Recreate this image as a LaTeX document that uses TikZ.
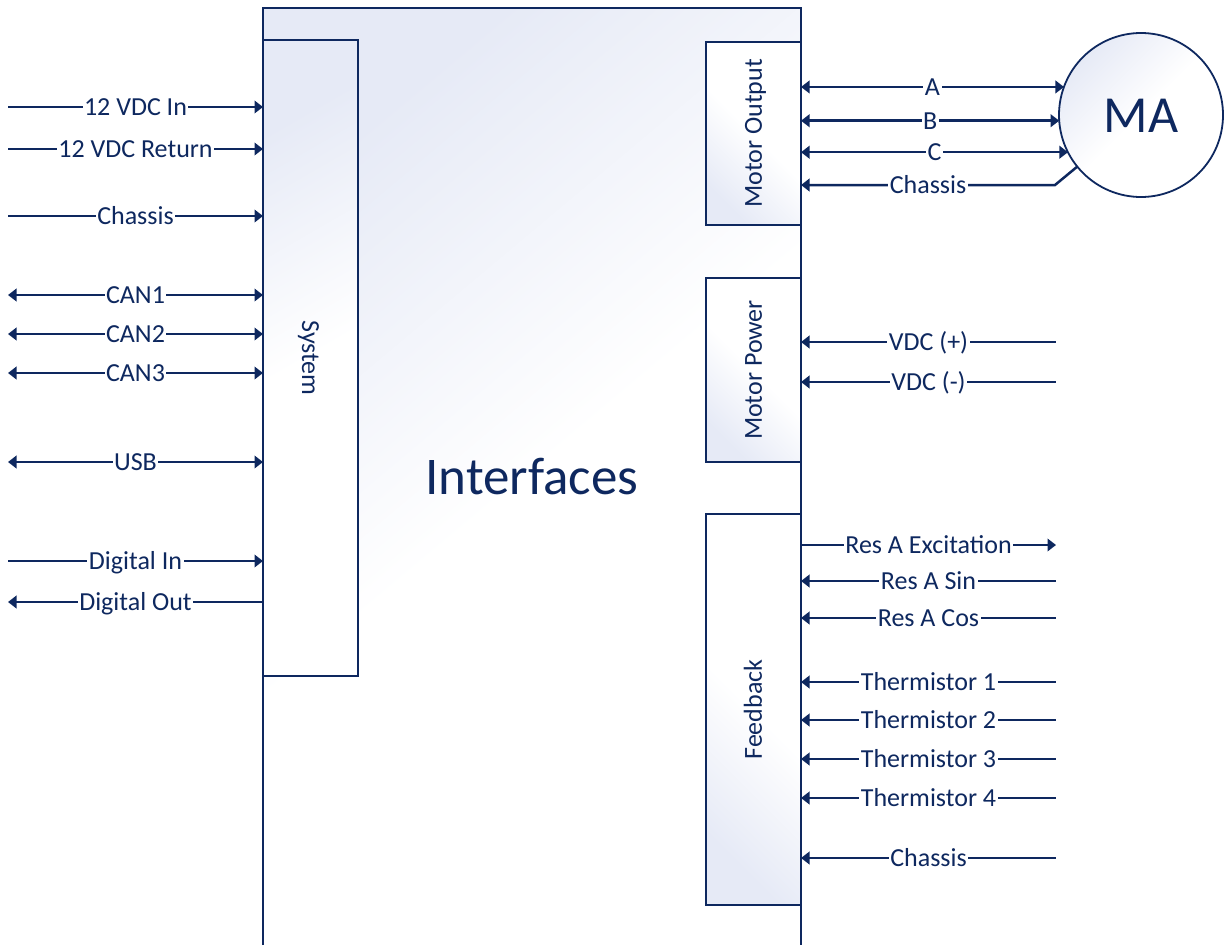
\documentclass[tikz,border=0pt]{standalone}
\usepackage{fontspec}
\setmainfont{Carlito}
\usetikzlibrary{arrows.meta}
\definecolor{navy}{RGB}{14,40,95}
\definecolor{pale}{RGB}{230,234,246}
\tikzset{
  navtip/.tip={Triangle[length=8.5pt,width=12.5pt]},
  ain/.style={-navtip},
  aout/.style={navtip-},
  aboth/.style={navtip-navtip},
  conn/.style={draw=navy,line width=2.5pt},
  boxstyle/.style={draw=navy,line width=1.8pt,top color=pale,bottom color=white,middle color=white,shading angle=135,inner sep=0pt,outer sep=0pt,anchor=north west},
  lbl/.style={fill=white,text=navy,font=\fontsize{26}{30}\selectfont,inner xsep=1.5pt,inner ysep=0pt,text height=16.8pt,text depth=0pt},
  vlbl/.style={text=navy,font=\fontsize{26}{30}\selectfont,inner sep=0pt,text height=16.8pt,text depth=0pt},
}
\begin{document}
\begin{tikzpicture}[x=1pt,y=-1pt]
\useasboundingbox (0,0) rectangle (1225,945);
% main box
\node[inner sep=0pt,outer sep=0pt,anchor=north west,minimum width=538pt,minimum height=937pt,
      top color=pale,bottom color=white,middle color=white,shading angle=40] (main) at (263,8) {};
\draw[draw=navy,line width=1.8pt] (main.south west) -- (main.north west) -- (main.north east) -- (main.south east);
\node[text=navy,font=\fontsize{53}{60}\selectfont,inner sep=0pt,text height=34pt,text depth=0pt] (ttl) at (532,477) {Interfaces};
% inner boxes
\node[boxstyle,minimum width=95pt,minimum height=636pt,shading angle=30] (sys) at (263,40) {};
\node[vlbl,rotate=-90] (sysl) at (sys.center) {System};
\node[boxstyle,minimum width=95pt,minimum height=183pt] (MO) at (706,42) {};
\node[vlbl,rotate=90] (MOl) at (MO.center) {Motor Output};
\node[boxstyle,minimum width=95pt,minimum height=184pt] (MP) at (706,278) {};
\node[vlbl,rotate=90] (MPl) at (MP.center) {Motor Power};
\node[boxstyle,minimum width=95pt,minimum height=391pt] (FB) at (706,514) {};
\node[vlbl,rotate=90] (FBl) at (FB.center) {Feedback};
% motor
\node[circle,draw=navy,line width=1.8pt,top color=pale,bottom color=white,middle color=white,shading angle=45,
      minimum size=164pt,inner sep=0pt,outer sep=0pt,text=navy,font=\fontsize{52}{60}\selectfont,
      text height=34pt,text depth=0pt] (MA) at (1141,115) {MA};
% left connectors
\foreach \y/\t/\s [count=\i] in {107/12 VDC In/ain,149/12 VDC Return/ain,216/Chassis/ain,
    295/CAN1/aboth,334/CAN2/aboth,373/CAN3/aboth,462/USB/aboth,561/Digital In/ain,602/Digital Out/aout}{
  \coordinate (L\i) at (8,\y);
  \draw[conn,\s] (L\i) -- node[lbl] (LL\i) {\t} (L\i -| sys.west);
}
% motor output connectors
\foreach \a/\t [count=\i] in {160/A,184/B,207/C}{
  \draw[conn,aboth] (MO.east |- MA.\a) -- node[lbl] (ML\i) {\t} (MA.\a);
}
\coordinate (mc) at (1055,185);
\draw[conn,aout] (MO.east |- mc) -- node[lbl] (ML4) {Chassis} (mc) -- (MA.219);
% motor power connectors
\foreach \y/\t [count=\i] in {342/VDC (+),382/VDC (-)}{
  \coordinate (P\i) at (1056,\y);
  \draw[conn,aout] (P\i -| MP.east) -- node[lbl] (PL\i) {\t} (P\i);
}
% feedback connectors
\coordinate (F0) at (1056,545);
\draw[conn,ain] (F0 -| FB.east) -- node[lbl] (FL0) {Res A Excitation} (F0);
\foreach \y/\t [count=\i] in {581/Res A Sin,618/Res A Cos,682/Thermistor 1,720/Thermistor 2,
    759/Thermistor 3,798/Thermistor 4,858/Chassis}{
  \coordinate (F\i) at (1056,\y);
  \draw[conn,aout] (F\i -| FB.east) -- node[lbl] (FL\i) {\t} (F\i);
}
\end{tikzpicture}
\end{document}
